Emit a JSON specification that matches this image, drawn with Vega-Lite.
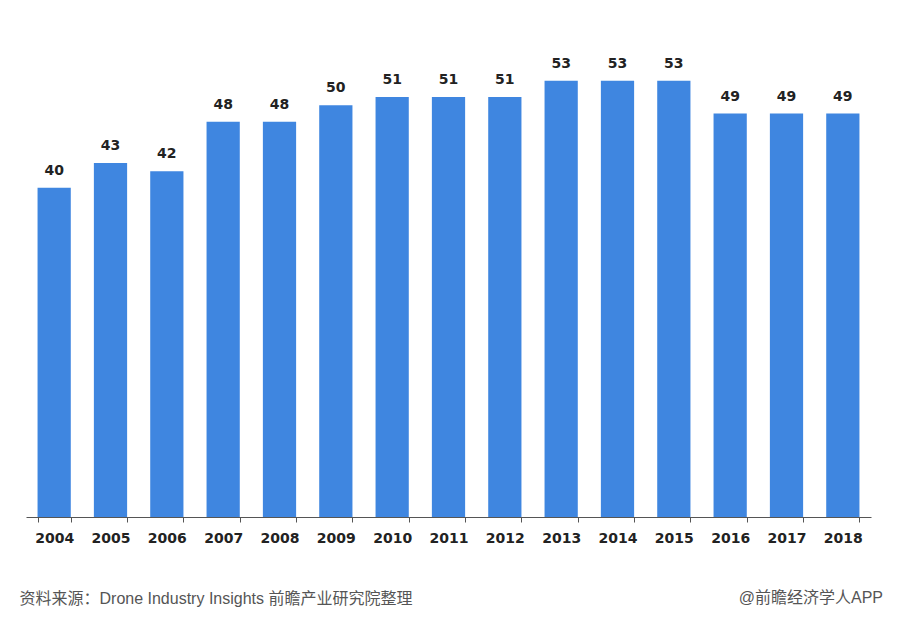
{
  "$schema": "https://vega.github.io/schema/vega-lite/v6.json",
  "width": 845,
  "height": 494,
  "autosize": {"type": "none"},
  "padding": {"left": 26, "top": 23, "right": 27, "bottom": 102},
  "background": "#ffffff",
  "config": {"view": {"stroke": null}},
  "title": {
    "text": "@前瞻经济学人APP",
    "orient": "bottom",
    "anchor": "end",
    "frame": "group",
    "dx": 12,
    "offset": -16,
    "font": "Liberation Sans, Noto Sans CJK SC",
    "fontSize": 16,
    "fontWeight": "normal",
    "color": "#555555"
  },
  "data": {
    "values": [
      {"year": "2004", "value": 40},
      {"year": "2005", "value": 43},
      {"year": "2006", "value": 42},
      {"year": "2007", "value": 48},
      {"year": "2008", "value": 48},
      {"year": "2009", "value": 50},
      {"year": "2010", "value": 51},
      {"year": "2011", "value": 51},
      {"year": "2012", "value": 51},
      {"year": "2013", "value": 53},
      {"year": "2014", "value": 53},
      {"year": "2015", "value": 53},
      {"year": "2016", "value": 49},
      {"year": "2017", "value": 49},
      {"year": "2018", "value": 49}
    ]
  },
  "encoding": {
    "x": {
      "field": "year",
      "type": "nominal",
      "sort": null,
      "scale": {"paddingInner": 0.41, "paddingOuter": 0.205},
      "axis": {
        "title": "资料来源：Drone Industry Insights 前瞻产业研究院整理",
        "titleFont": "Liberation Sans, Noto Sans CJK SC",
        "titleFontSize": 16,
        "titleFontWeight": "normal",
        "titleColor": "#555555",
        "titleAnchor": "start",
        "titleAlign": "left",
        "titleBaseline": "alphabetic",
        "titleX": -7,
        "titleY": 86,
        "labelAngle": 0,
        "labelFont": "DejaVu Sans",
        "labelFontSize": 14,
        "labelFontWeight": "bold",
        "labelColor": "#222222",
        "labelPadding": 9,
        "labelBaseline": "top",
        "tickBand": "extent",
        "tickSize": 5,
        "tickColor": "#555555",
        "domainColor": "#555555",
        "domainWidth": 1,
        "grid": false
      }
    },
    "y": {
      "field": "value",
      "type": "quantitative",
      "scale": {"domain": [0, 60], "nice": false},
      "axis": null
    }
  },
  "layer": [
    {"mark": {"type": "bar", "color": "#3f86e0"}},
    {
      "mark": {
        "type": "text",
        "dy": -13,
        "baseline": "alphabetic",
        "font": "DejaVu Sans",
        "fontSize": 14,
        "fontWeight": "bold",
        "color": "#222222"
      },
      "encoding": {"text": {"field": "value", "type": "quantitative"}}
    }
  ]
}
